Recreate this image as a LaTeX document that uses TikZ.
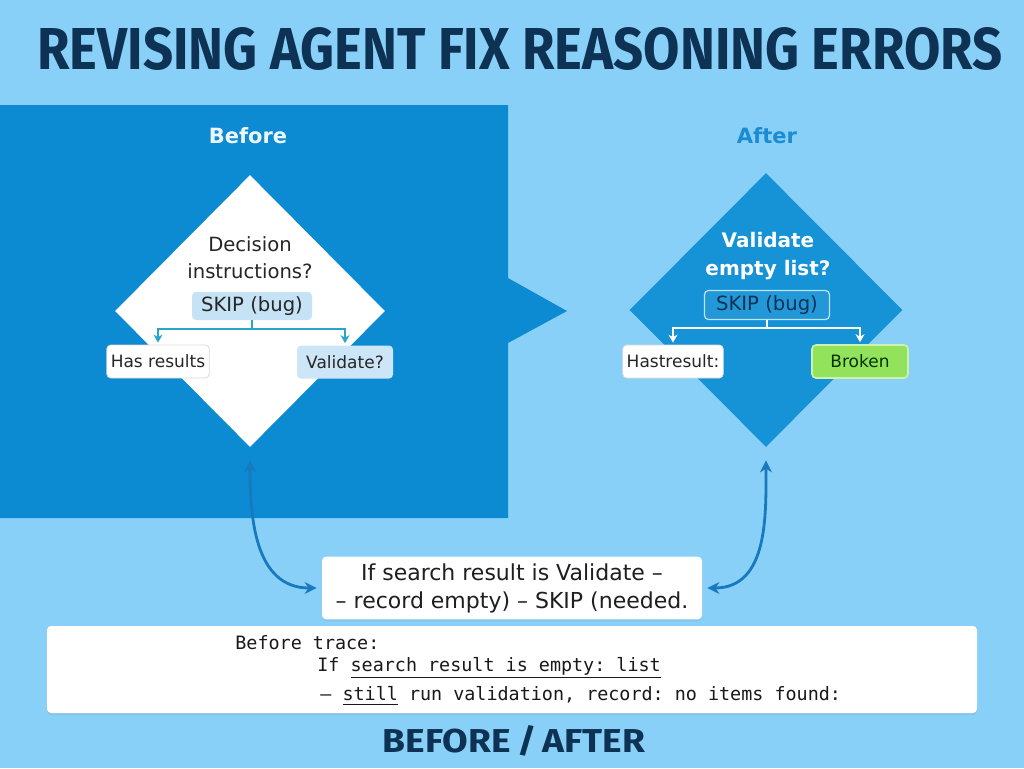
\documentclass[tikz,border=0pt]{standalone}
\usepackage{fontspec}
\setmainfont{DejaVu Sans}
\setmonofont{DejaVu Sans Mono}
\newfontfamily\titrefont{Fira Sans}
\usepackage{graphicx}
\usepackage{xcolor}
\usetikzlibrary{shapes.geometric, arrows.meta, shadows}

\definecolor{fond}{RGB}{136,208,247}
\definecolor{panneau}{RGB}{12,139,211}
\definecolor{losange}{RGB}{22,146,214}
\definecolor{marine}{RGB}{14,50,84}
\definecolor{apres}{RGB}{28,140,210}
\definecolor{fleche}{RGB}{24,121,190}
\definecolor{lien}{RGB}{40,165,205}
\definecolor{bleupale}{RGB}{198,227,246}
\definecolor{bleuskip}{RGB}{34,152,216}
\definecolor{bordskip}{RGB}{190,228,248}
\definecolor{vert}{RGB}{146,226,92}
\definecolor{bordvert}{RGB}{205,242,175}

\begin{document}
\begin{tikzpicture}[x = 0.5pt, y = -0.5pt,
    carre/.style = {diamond, inner sep = 0pt, aspect = 1},
    boite/.style = {rounded corners = 2pt, inner sep = 2pt, minimum height = 16.5pt,
        font = \fontsize{8.5}{10}\selectfont},
    blanche/.style = {fill = white, draw = black!15, text = black!85},
    pale/.style = {fill = bleupale!90!white, text = black!85},
    verte/.style = {fill = vert, draw = bordvert, line width = 0.8pt, text = black!80!green},
    skip/.style = {rounded corners = 2pt, inner sep = 2pt, minimum height = 14pt,
        font = \fontsize{9.8}{11}\selectfont},
    note/.style = {fill = white, rounded corners = 2pt, align = center,
        drop shadow = {opacity = 0.15, shadow xshift = 0pt, shadow yshift = -1pt}},
    ligne/.style = {anchor = west, inner sep = 0pt, text = black!90,
        font = \ttfamily\fontsize{9.2}{10}\selectfont},
    courbe/.style = {fleche, line width = 1.4pt, {Stealth[length = 6pt, width = 6pt]}-{Stealth[length = 6pt, width = 6pt]}},
    branche/.style = {line width = 1pt, -{Stealth[length = 4pt, width = 4.5pt]}}
]
\useasboundingbox (0, 0) rectangle (1024, 768);
\fill[fond] (0, 0) rectangle (1024, 768);

% Titre
\node[marine] (titre) at (520, 49)
    {\resizebox{482.5pt}{21pt}{\titrefont\bfseries REVISING AGENT FIX REASONING ERRORS}};

% Panneau de gauche avec sa pointe
\fill[panneau] (0, 105) -- (508, 105) -- (508, 278) -- (567, 311)
    -- (508, 343) -- (508, 518) -- (0, 518) -- cycle;

\node[text = white!92!apres, font = \fontsize{10.5}{12}\selectfont\bfseries] (avant) at (248, 136) {Before};
\node[text = apres, font = \fontsize{10.5}{12}\selectfont\bfseries] (apres) at (767, 136) {After};

% Les deux losanges
\node[carre, fill = white, minimum width = 135pt, minimum height = 136pt] (dav) at (250, 311) {};
\node[carre, fill = losange, minimum width = 136.5pt, minimum height = 137pt] (dap) at (766, 310) {};

\node[align = center, text = black!85, font = \fontsize{9.8}{13.5}\selectfont] (qav) at (250, 257.5)
    {Decision\\instructions?};
\node[align = center, text = white, font = \fontsize{10}{14}\selectfont\bfseries] (qap) at (768, 256)
    {Validate\\empty list?};

\node[skip, fill = bleupale, text = black!85, minimum width = 60pt] (skav) at (252, 306) {SKIP (bug)};
\node[skip, fill = bleuskip, draw = bordskip, line width = 0.6pt, text = marine,
    minimum width = 62.5pt, minimum height = 14.5pt] (skap) at (767, 305) {SKIP (bug)};

% Les branches
\foreach \x/\y/\w/\nom/\genre/\texte in {
    158/361.5/50/hav/blanche/Has results,
    345/362/48/vav/pale/Validate?,
    673/361.5/50/hap/blanche/Hastresult:,
    860/361.5/48/bap/verte/Broken}{
    \node[boite, minimum width = \w pt, \genre] (\nom) at (\x, \y) {\texte};
}

\draw[lien, line width = 1pt] (skav.south) -- ++(0, 9) coordinate (jav);
\draw[white, line width = 1pt] (skap.south) -- ++(0, 8) coordinate (jap);
\foreach \source/\dest/\couleur in {jav/hav/lien, jav/vav/lien, jap/hap/white, jap/bap/white}{
    \draw[branche, \couleur] (\source) -| ([yshift = 1pt]\dest.north);
}

% Note du milieu
\node[note, minimum width = 190pt, minimum height = 31pt, font = \fontsize{11}{14}\selectfont, text = black!88]
    (milieu) at (512, 588) {If search result is Validate –\\– record empty) – SKIP (needed.};

\draw[courbe, shorten <= 6.5pt, shorten >= 2.5pt] (dav.south) to[out = -90, in = 180, looseness = 1.1] (milieu.west);
\draw[courbe, shorten <= 6.5pt, shorten >= 2.5pt] (dap.south) to[out = -90, in = 0, looseness = 1.1] (milieu.east);

% Trace du bas
\node[note, minimum width = 465pt, minimum height = 43.5pt] (trace) at (512, 669.5) {};
\node[ligne] (l1) at (235, 643) {Before trace:};
\node[ligne] (l2) at (317, 668) {If \underline{search result is empty: list}};
\node[ligne] (l3) at (320, 696) {– \underline{still} run validation, record: no items found:};

\node[marine] (bilan) at (514, 741) {\resizebox{131pt}{13.5pt}{\titrefont\bfseries BEFORE\,/\,AFTER}};
\end{tikzpicture}
\end{document}
